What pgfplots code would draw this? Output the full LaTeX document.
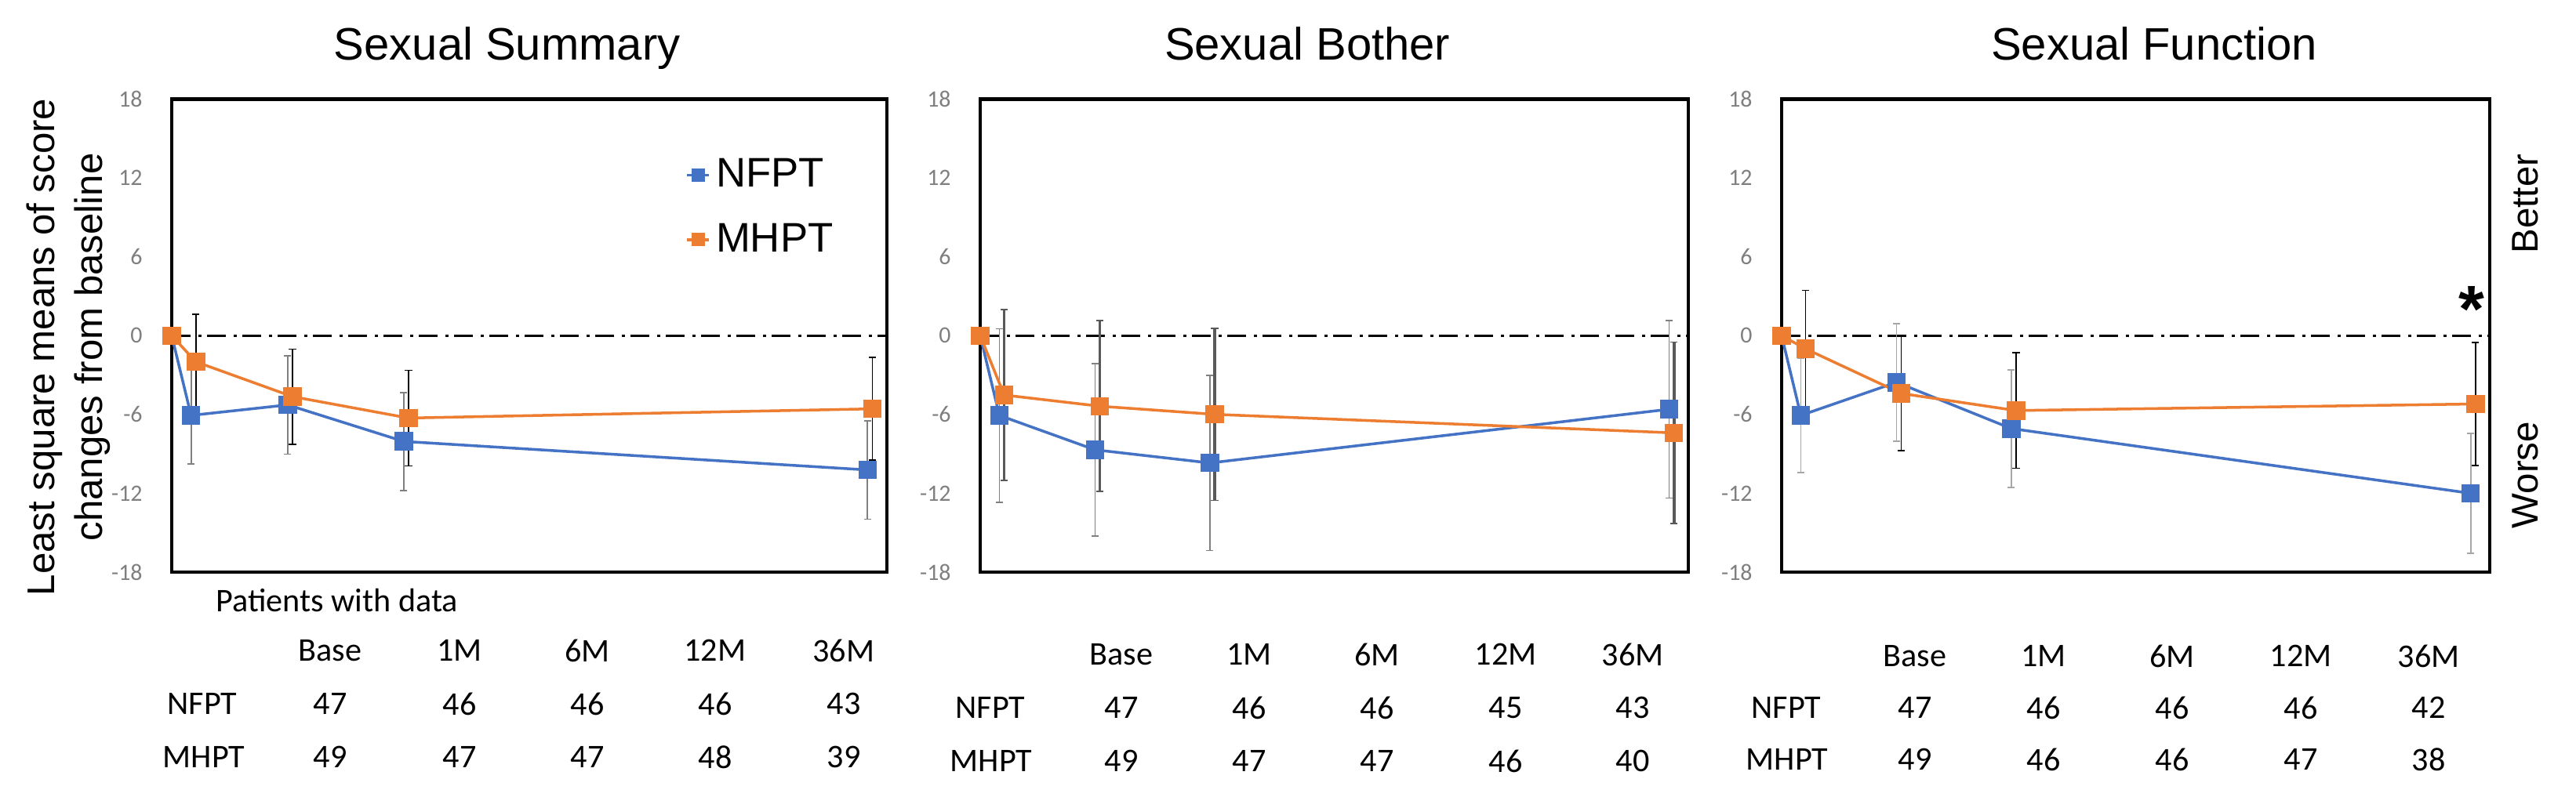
\documentclass[border=0pt]{standalone}
\usepackage{fontspec}
\setmainfont{Liberation Sans}
\newfontfamily\carlito{Carlito}
\usepackage{pgfplots}
\pgfplotsset{compat=1.18}

\definecolor{nfpt}{HTML}{4472C4}
\definecolor{mhpt}{HTML}{ED7D31}
\definecolor{tickgray}{HTML}{7F7F7F}
\definecolor{bargray}{HTML}{808080}
\definecolor{lightbar}{HTML}{A6A6A6}
\definecolor{darkbar}{HTML}{595959}

\pgfplotsset{
  panel/.style={
    scale only axis, height=6.034cm,
    xmin=0, xmax=37, ymin=-18, ymax=18,
    clip=false,
    axis line style={line width=1.4pt},
    xtick=\empty,
    ytick={-18,-12,-6,0,6,12,18},
    yticklabels={-18,-12,-6,0,6,12,18},
    major tick length=0pt,
    yticklabel style={font=\carlito\fontsize{8.5}{10}\selectfont, text=tickgray, xshift=-0.25cm},
    title style={font=\fontsize{16.5}{19}\selectfont, anchor=base, yshift=0.286cm},
  },
  zero/.style={black, line width=0.9pt, dash pattern=on 0.24cm off 0.1cm on 0.04cm off 0.07cm, forget plot},
  series/.style 2 args={#1, line width=1pt, mark=square*, mark size=2.85pt, mark options={solid},
    error bars/y dir=both, error bars/y explicit,
    error bars/error bar style={line width=0.5pt, color=#2},
    error bars/error mark options={rotate=90, line width=0.5pt, color=#2, mark size=1.3pt}},
}
\tikzset{tab/.style={font=\carlito\fontsize{12}{14}\selectfont, anchor=center}}

\begin{document}
\begin{tikzpicture}[x=1cm,y=1cm]
\useasboundingbox (0,0) rectangle (32.85,10.30);

% ---- Sexual Summary
\begin{axis}[panel, at={(2.19cm,3.00cm)}, anchor=south west, width=9.12cm,
  title={Sexual Summary}, title style={at={(0.469,1)}},
  legend style={draw=none, fill=none, at={(0.718,0.887)}, anchor=north west,
    font=\fontsize{15}{18}\selectfont, row sep=0.27cm, inner sep=0pt},
  legend cell align=left,
  legend image code/.code={\draw[mark size=1.9pt, mark repeat=2, mark phase=2]
    plot coordinates {(0cm,0cm) (0.14cm,0cm) (0.28cm,0cm)};}]
\addplot[zero] coordinates {(0,0) (37,0)};
\addplot[series={nfpt}{bargray}] table[x=x, y=y, y error=e] {
x y e
0 0 0
1 -6.07 3.68
6 -5.27 3.75
12 -8.05 3.73
36 -10.22 3.75
};
\addplot[series={mhpt}{black}] table[x=x, y=y, y error=e] {
x y e
0 0 0
1.25 -1.99 3.64
6.25 -4.64 3.62
12.25 -6.27 3.64
36.25 -5.57 3.9
};
\legend{NFPT, MHPT}
\end{axis}

% ---- Sexual Bother
\begin{axis}[panel, at={(12.50cm,3.00cm)}, anchor=south west, width=9.03cm,
  title={Sexual Bother}, title style={at={(0.462,1)}}]
\addplot[zero] coordinates {(0,0) (37,0)};
\addplot[series={nfpt}{bargray}] table[x=x, y=y, y error=e] {
x y e
0 0 0
1 -6.07 6.6
6 -8.69 6.58
12 -9.69 6.67
36 -5.6 6.76
};
\addplot[series={mhpt}{darkbar}, error bars/error bar style={line width=1.1pt, color=darkbar}] table[x=x, y=y, y error=e] {
x y e
0 0 0
1.25 -4.52 6.5
6.25 -5.37 6.5
12.25 -5.99 6.55
36.25 -7.4 6.91
};
\end{axis}

% ---- Sexual Function
\begin{axis}[panel, at={(22.72cm,3.00cm)}, anchor=south west, width=9.03cm,
  title={Sexual Function}, title style={at={(0.526,1)}}]
\addplot[zero] coordinates {(0,0) (37,0)};
\addplot[series={nfpt}{lightbar}] table[x=x, y=y, y error=e] {
x y e
0 0 0
1 -6.07 4.37
6 -3.55 4.47
12 -7.07 4.47
36 -12.0 4.58
};
\addplot[series={mhpt}{black}] table[x=x, y=y, y error=e] {
x y e
0 0 0
1.25 -1.0 4.45
6.25 -4.4 4.37
12.25 -5.7 4.4
36.25 -5.2 4.7
};
\node[font=\bfseries\fontsize{24}{26}\selectfont, anchor=base] at (axis cs:36.05,0.3) {*};
\end{axis}

% ---- side labels
\node[rotate=90, align=center, font=\fontsize{14}{17.4}\selectfont] at (0.87,5.87)
  {Least square means of score\\changes from baseline};
\node[rotate=90, font=\fontsize{13.5}{16}\selectfont] at (32.20,7.70) {Better};
\node[rotate=90, font=\fontsize{13.5}{16}\selectfont] at (32.20,4.24) {Worse};

% ---- patients with data
\node[tab, anchor=west] at (2.63,2.64) {Patients with data};
\foreach \x/\h/\a/\b in {4.21/Base/47/49, 5.86/1M/46/47, 7.49/6M/46/47, 9.12/12M/46/48, 10.76/36M/43/39}{
  \node[tab] at (\x,2.00) {\h};
  \node[tab] at (\x,1.32) {\a};
  \node[tab] at (\x,0.64) {\b};
}
\node[tab] at (2.58,1.32) {NFPT};
\node[tab] at (2.60,0.64) {MHPT};

\foreach \x/\h/\a/\b in {14.30/Base/47/49, 15.93/1M/46/47, 17.56/6M/46/47, 19.20/12M/45/46, 20.82/36M/43/40}{
  \node[tab] at (\x,1.95) {\h};
  \node[tab] at (\x,1.27) {\a};
  \node[tab] at (\x,0.59) {\b};
}
\node[tab] at (12.63,1.27) {NFPT};
\node[tab] at (12.64,0.59) {MHPT};

\foreach \x/\h/\a/\b in {24.42/Base/47/49, 26.06/1M/46/46, 27.70/6M/46/46, 29.34/12M/46/47, 30.97/36M/42/38}{
  \node[tab] at (\x,1.93) {\h};
  \node[tab] at (\x,1.27) {\a};
  \node[tab] at (\x,0.61) {\b};
}
\node[tab] at (22.78,1.27) {NFPT};
\node[tab] at (22.79,0.61) {MHPT};
\end{tikzpicture}
\end{document}
